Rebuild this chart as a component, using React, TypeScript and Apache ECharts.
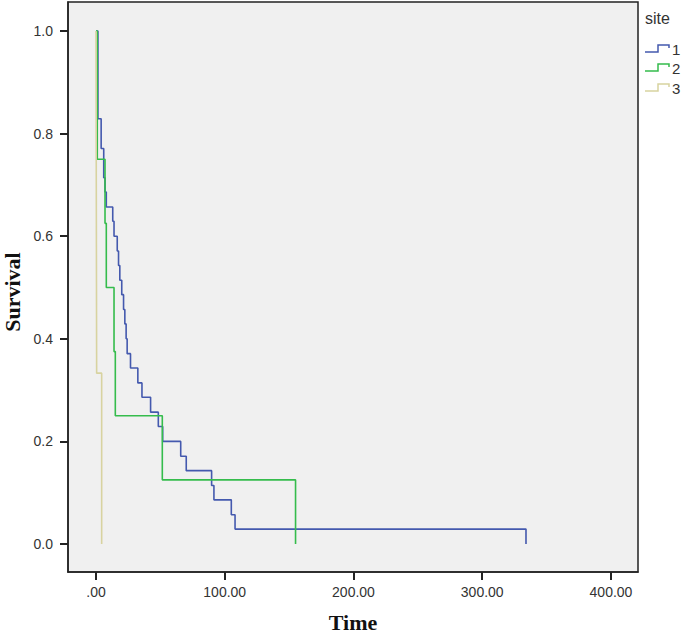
import React, { useEffect, useRef } from "react";
import * as echarts from "echarts";

// Kaplan-Meier step points: (time, survival after the event at that time)
const site1Times = [0, 1.5, 4, 6, 7, 8, 13, 14, 16.5, 17.5, 18.5, 20, 21.4, 22.4, 23.4, 24.2, 26.8, 32.5, 35.7, 42.4, 48.4, 51.8, 65.8, 70.1, 89.8, 91.6, 105.1, 108, 334];
const site1Surv = [1, 0.829, 0.771, 0.714, 0.686, 0.657, 0.629, 0.6, 0.571, 0.543, 0.514, 0.486, 0.457, 0.429, 0.4, 0.371, 0.343, 0.314, 0.286, 0.257, 0.229, 0.2, 0.171, 0.143, 0.114, 0.086, 0.057, 0.029, 0];

const site2Times = [0, 1, 7, 8, 14, 15, 51.5, 155];
const site2Surv = [1, 0.75, 0.625, 0.5, 0.375, 0.25, 0.125, 0];

const site3Times = [0, 0.5, 4.4];
const site3Surv = [1, 0.333, 0];

const siteNames = ["1", "2", "3"];
const siteColors = ["#4459AE", "#35BC4C", "#D8D3A0"];

const xTicks = [0, 100, 200, 300, 400];
const yTicks = [0, 0.2, 0.4, 0.6, 0.8, 1.0];

const zip = (t: number[], s: number[]) => t.map((v, i) => [v, s[i]]);

export default function App() {
  const ref = useRef<HTMLDivElement>(null);
  useEffect(() => {
    if (!ref.current) return;
    const chart = echarts.init(ref.current, null, { renderer: "svg" });
    const seriesData = [zip(site1Times, site1Surv), zip(site2Times, site2Surv), zip(site3Times, site3Surv)];
    const legendY = [49, 68, 88];
    const graphics: any[] = [
      {
        type: "text",
        x: 12,
        y: 292,
        rotation: Math.PI / 2,
        style: {
          text: "Survival",
          font: 'bold 22px "Liberation Serif"',
          fill: "#111",
          align: "center",
          verticalAlign: "middle",
        },
      },
      {
        type: "text",
        x: 353,
        y: 622,
        style: {
          text: "Time",
          font: 'bold 22px "Liberation Serif"',
          fill: "#111",
          align: "center",
          verticalAlign: "middle",
        },
      },
      {
        type: "text",
        x: 645,
        y: 18,
        style: {
          text: "site",
          font: '16px "Liberation Sans"',
          fill: "#333",
          align: "left",
          verticalAlign: "middle",
        },
      },
    ];
    siteNames.forEach((name, i) => {
      const y = legendY[i];
      graphics.push({
        type: "polyline",
        shape: {
          points: [
            [645, y + 3],
            [658, y + 3],
            [658, y - 4],
            [669, y - 4],
            [669, y - 1],
          ],
        },
        style: { stroke: siteColors[i], lineWidth: 1.5, fill: null },
      });
      graphics.push({
        type: "text",
        x: 672,
        y: y,
        style: {
          text: name,
          font: '15px "Liberation Sans"',
          fill: "#333",
          align: "left",
          verticalAlign: "middle",
        },
      });
    });

    chart.setOption({
      animation: false,
      backgroundColor: "#ffffff",
      grid: {
        left: 68,
        right: 45,
        top: 2,
        bottom: 61,
        show: true,
        backgroundColor: "#F0F0F0",
        borderColor: "#222",
        borderWidth: 1.5,
      },
      xAxis: {
        type: "value",
        min: -21.75,
        max: 421,
        axisLine: { show: true, onZero: false, lineStyle: { color: "#222", width: 1.5 } },
        axisTick: {
          show: true,
          length: 8,
          customValues: xTicks,
          lineStyle: { color: "#222", width: 2 },
        },
        axisLabel: {
          show: true,
          customValues: xTicks,
          margin: 13,
          fontSize: 14,
          fontFamily: "Liberation Sans",
          color: "#333",
          formatter: (v: number) => (v === 0 ? ".00" : v.toFixed(2)),
        },
        splitLine: { show: false },
      },
      yAxis: {
        type: "value",
        min: -0.0546,
        max: 1.0565,
        axisLine: { show: true, onZero: false, lineStyle: { color: "#222", width: 1.5 } },
        axisTick: {
          show: true,
          length: 8,
          customValues: yTicks,
          lineStyle: { color: "#222", width: 2 },
        },
        axisLabel: {
          show: true,
          customValues: yTicks,
          margin: 15,
          fontSize: 14,
          fontFamily: "Liberation Sans",
          color: "#333",
          formatter: (v: number) => v.toFixed(1),
        },
        splitLine: { show: false },
      },
      series: seriesData.map((d, i) => ({
        type: "line",
        name: siteNames[i],
        data: d,
        step: "end",
        showSymbol: false,
        symbol: "none",
        clip: false,
        lineStyle: { color: siteColors[i], width: 1.6 },
        itemStyle: { color: siteColors[i] },
      })),
      graphic: graphics,
    });
    return () => chart.dispose();
  }, []);
  return (
    <div
      ref={ref}
      style={{ position: "absolute", left: 0, top: 0, width: 683, height: 633 }}
    />
  );
}
